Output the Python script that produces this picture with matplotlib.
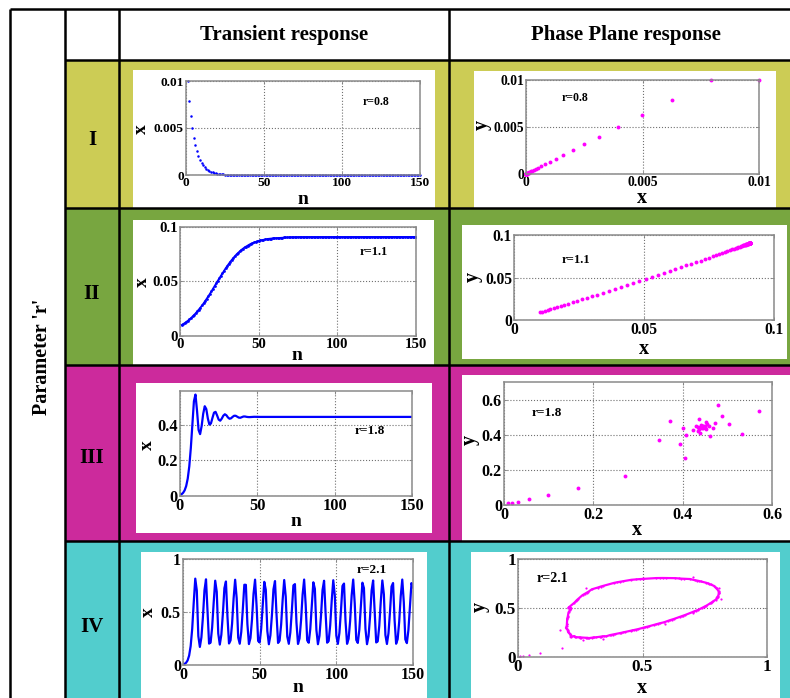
import numpy as np
import matplotlib
matplotlib.use('Agg')
import matplotlib.pyplot as plt
from matplotlib.patches import Rectangle
from matplotlib.lines import Line2D

# ---------------- data ----------------
col_titles = ['Transient response', 'Phase Plane response']
row_names = ['I', 'II', 'III', 'IV']
r_labels = ['r=0.8', 'r=1.1', 'r=1.8', 'r=2.1']
side_title = "Parameter 'r'"
x_prev0 = 0.01  # initial y value (previous x)

x_r08 = [0.01, 0.00792, 0.00627, 0.00498, 0.00396, 0.00315, 0.00251, 0.00200, 0.00160, 0.00128,
         0.00102, 0.00081, 0.00065, 0.00052, 0.00042, 0.00033, 0.00027, 0.00021, 0.00017, 0.00014,
         0.00011, 0.00009, 0.00007, 0.00006, 0.00005, 0.00004, 0.00003, 0.00002, 0.00002, 0.00001,
         0.00001, 0.00001, 0.000005, 0.000004, 0.000003, 0.000002, 0.000002, 0.000001, 0.000001, 0.000001,
         0, 0, 0, 0, 0, 0, 0, 0, 0, 0, 0, 0, 0, 0, 0, 0, 0, 0, 0, 0,
         0, 0, 0, 0, 0, 0, 0, 0, 0, 0, 0, 0, 0, 0, 0, 0, 0, 0, 0, 0,
         0, 0, 0, 0, 0, 0, 0, 0, 0, 0, 0, 0, 0, 0, 0, 0, 0, 0, 0, 0,
         0, 0, 0, 0, 0, 0, 0, 0, 0, 0, 0, 0, 0, 0, 0, 0, 0, 0, 0, 0,
         0, 0, 0, 0, 0, 0, 0, 0, 0, 0, 0, 0, 0, 0, 0, 0, 0, 0, 0, 0,
         0, 0, 0, 0, 0, 0, 0, 0, 0, 0]

x_r11 = [0.0100, 0.0109, 0.0119, 0.0129, 0.0140, 0.0152, 0.0165, 0.0179, 0.0194, 0.0209,
         0.0226, 0.0243, 0.0261, 0.0280, 0.0300, 0.0321, 0.0343, 0.0365, 0.0387, 0.0411,
         0.0434, 0.0458, 0.0482, 0.0506, 0.0530, 0.0553, 0.0576, 0.0599, 0.0621, 0.0642,
         0.0662, 0.0682, 0.0700, 0.0718, 0.0734, 0.0750, 0.0764, 0.0777, 0.0790, 0.0801,
         0.0812, 0.0821, 0.0830, 0.0838, 0.0846, 0.0852, 0.0858, 0.0863, 0.0868, 0.0873,
         0.0877, 0.0880, 0.0883, 0.0886, 0.0888, 0.0891, 0.0893, 0.0894, 0.0896, 0.0897,
         0.0899, 0.0900, 0.0901, 0.0902, 0.0903, 0.0904, 0.0904, 0.0905, 0.0905, 0.0906,
         0.0906, 0.0907, 0.0907, 0.0907, 0.0908, 0.0908, 0.0908, 0.0908, 0.0908, 0.0909,
         0.0909, 0.0909, 0.0909, 0.0909, 0.0909, 0.0909, 0.0909, 0.0909, 0.0909, 0.0909,
         0.0909, 0.0909, 0.0909, 0.0909, 0.0909, 0.0909, 0.0909, 0.0909, 0.0909, 0.0909,
         0.0909, 0.0909, 0.0909, 0.0909, 0.0909, 0.0909, 0.0909, 0.0909, 0.0909, 0.0909,
         0.0909, 0.0909, 0.0909, 0.0909, 0.0909, 0.0909, 0.0909, 0.0909, 0.0909, 0.0909,
         0.0909, 0.0909, 0.0909, 0.0909, 0.0909, 0.0909, 0.0909, 0.0909, 0.0909, 0.0909,
         0.0909, 0.0909, 0.0909, 0.0909, 0.0909, 0.0909, 0.0909, 0.0909, 0.0909, 0.0909,
         0.0909, 0.0909, 0.0909, 0.0909, 0.0909, 0.0909, 0.0909, 0.0909, 0.0909, 0.0909]

x_r18 = [0.0100, 0.0178, 0.0318, 0.0562, 0.0979, 0.1663, 0.2700, 0.4052, 0.5324, 0.5700,
         0.4798, 0.3713, 0.3477, 0.3935, 0.4620, 0.5044, 0.4885, 0.4358, 0.4012, 0.4075,
         0.4392, 0.4684, 0.4728, 0.4524, 0.4293, 0.4231, 0.4347, 0.4513, 0.4593, 0.4536,
         0.4415, 0.4342, 0.4366, 0.4446, 0.4509, 0.4508, 0.4456, 0.4405, 0.4396, 0.4431,
         0.4466, 0.4468, 0.4448, 0.4436, 0.4433, 0.4440, 0.4448, 0.4450, 0.4447, 0.4443,
         0.4444, 0.4444, 0.4444, 0.4444, 0.4444, 0.4444, 0.4444, 0.4444, 0.4444, 0.4444,
         0.4444, 0.4444, 0.4444, 0.4444, 0.4444, 0.4444, 0.4444, 0.4444, 0.4444, 0.4444,
         0.4444, 0.4444, 0.4444, 0.4444, 0.4444, 0.4444, 0.4444, 0.4444, 0.4444, 0.4444,
         0.4444, 0.4444, 0.4444, 0.4444, 0.4444, 0.4444, 0.4444, 0.4444, 0.4444, 0.4444,
         0.4444, 0.4444, 0.4444, 0.4444, 0.4444, 0.4444, 0.4444, 0.4444, 0.4444, 0.4444,
         0.4444, 0.4444, 0.4444, 0.4444, 0.4444, 0.4444, 0.4444, 0.4444, 0.4444, 0.4444,
         0.4444, 0.4444, 0.4444, 0.4444, 0.4444, 0.4444, 0.4444, 0.4444, 0.4444, 0.4444,
         0.4444, 0.4444, 0.4444, 0.4444, 0.4444, 0.4444, 0.4444, 0.4444, 0.4444, 0.4444,
         0.4444, 0.4444, 0.4444, 0.4444, 0.4444, 0.4444, 0.4444, 0.4444, 0.4444, 0.4444,
         0.4444, 0.4444, 0.4444, 0.4444, 0.4444, 0.4444, 0.4444, 0.4444, 0.4444, 0.4444]

x_r21 = [0.0100, 0.0208, 0.0432, 0.0889, 0.1786, 0.3417, 0.5894, 0.8148, 0.7026, 0.2732,
         0.1706, 0.2604, 0.4536, 0.7045, 0.8084, 0.5017, 0.2019, 0.2113, 0.3541, 0.5865,
         0.7955, 0.6908, 0.2966, 0.1926, 0.2845, 0.4824, 0.7248, 0.7878, 0.4553, 0.2029,
         0.2320, 0.3884, 0.6264, 0.8045, 0.6312, 0.2591, 0.2007, 0.3123, 0.5242, 0.7570,
         0.7564, 0.3860, 0.1975, 0.2547, 0.4292, 0.6718, 0.8053, 0.5550, 0.2269, 0.2120,
         0.3442, 0.5696, 0.7845, 0.7091, 0.3209, 0.1960, 0.2795, 0.4719, 0.7140, 0.7918,
         0.4755, 0.2079, 0.2290, 0.3809, 0.6167, 0.8018, 0.6454, 0.2686, 0.2000, 0.3072,
         0.5161, 0.7509, 0.7631, 0.3992, 0.1986, 0.2506, 0.4217, 0.6637, 0.8060, 0.5692,
         0.2319, 0.2098, 0.3384, 0.5615, 0.7801, 0.7184, 0.3317, 0.1962, 0.2754, 0.4649,
         0.7074, 0.7949, 0.4884, 0.2104, 0.2260, 0.3747, 0.6090, 0.7997, 0.6566, 0.2762,
         0.1992, 0.3028, 0.5092, 0.7455, 0.7684, 0.4107, 0.1998, 0.2473, 0.4156, 0.6569,
         0.8062, 0.5809, 0.2364, 0.2081, 0.3337, 0.5549, 0.7764, 0.7257, 0.3408, 0.1963,
         0.2717, 0.4586, 0.7014, 0.7975, 0.5001, 0.2127, 0.2233, 0.3692, 0.6022, 0.7977,
         0.6664, 0.2831, 0.1983, 0.2985, 0.5025, 0.7403, 0.7734, 0.4218, 0.2007, 0.2437,
         0.4091, 0.6497, 0.8062, 0.5931, 0.2414, 0.2063, 0.3287, 0.5479, 0.7724, 0.7333]

series = [x_r08, x_r11, x_r18, x_r21]

# ticks
trans_xticks = [0, 50, 100, 150]
trans_xlabels = ['0', '50', '100', '150']
trans_yticks = [[0, 0.005, 0.01], [0, 0.05, 0.1], [0, 0.2, 0.4], [0, 0.5, 1]]
trans_ylabels = [['0', '0.005', '0.01'], ['0', '0.05', '0.1'], ['0', '0.2', '0.4'], ['0', '0.5', '1']]
trans_ylim = [(0, 0.01), (0, 0.1), (0, 0.59), (0, 1)]
phase_xticks = [[0, 0.005, 0.01], [0, 0.05, 0.1], [0, 0.2, 0.4, 0.6], [0, 0.5, 1]]
phase_xlabels = [['0', '0.005', '0.01'], ['0', '0.05', '0.1'], ['0', '0.2', '0.4', '0.6'], ['0', '0.5', '1']]
phase_yticks = [[0, 0.005, 0.01], [0, 0.05, 0.1], [0, 0.2, 0.4, 0.6], [0, 0.5, 1]]
phase_ylabels = [['0', '0.005', '0.01'], ['0', '0.05', '0.1'], ['0', '0.2', '0.4', '0.6'], ['0', '0.5', '1']]
phase_xlim = [(0, 0.01), (0, 0.1), (0, 0.6), (0, 1)]
phase_ylim = [(0, 0.01), (0, 0.1), (0, 0.7), (0, 1)]

# ---------------- layout (pixels) ----------------
W, H = 790, 698
SERIF = 'Liberation Serif'
fig = plt.figure(figsize=(W / 100, H / 100), dpi=100)
fig.patch.set_facecolor('white')


def fx(x):
    return x / W


def fy(y):
    return 1 - y / H


def rect(x0, y0, x1, y1, color, z=-10):
    fig.add_artist(Rectangle((fx(x0), fy(y1)), (x1 - x0) / W, (y1 - y0) / H,
                             transform=fig.transFigure, facecolor=color,
                             edgecolor='none', zorder=z))


def line(xs, ys, lw=1.8):
    fig.add_artist(Line2D([fx(v) for v in xs], [fy(v) for v in ys],
                          transform=fig.transFigure, color='black', lw=lw,
                          zorder=-5, solid_capstyle='butt'))


row_colors = ['#CCCC55', '#78A640', '#CC2A9C', '#52CDCD']
row_y = [(60, 208), (208, 365), (365, 541), (541, 698)]
for c, (a, b) in zip(row_colors, row_y):
    rect(65, a, 790, b, c)

white_boxes = [
    [(133, 70, 435, 208), (474, 71, 776, 208)],
    [(133, 220, 434, 365), (462, 225, 787, 359)],
    [(136, 383, 432, 533), (462, 375, 790, 541)],
    [(141, 552, 427, 698), (471, 552, 780, 698)],
]
for pair in white_boxes:
    for (a, b, c, d) in pair:
        rect(a, b, c, d, 'white', z=-8)

# table lines
line([10, 790], [9, 9])
for xv in [10, 65, 119, 449]:
    line([xv, xv], [9, 698])
for yv in [60, 208, 365, 541]:
    line([65, 790], [yv, yv])

# headers
fig.text(fx(284), fy(35), col_titles[0], ha='center', va='center',
         fontsize=15, fontweight='bold', family=SERIF)
fig.text(fx(626), fy(35), col_titles[1], ha='center', va='center',
         fontsize=15, fontweight='bold', family=SERIF)
fig.text(fx(42), fy(357), side_title, ha='center', va='center', rotation=90,
         fontsize=14.5, fontweight='bold', family=SERIF)
row_label_y = [140, 294, 458, 627]
for name, yv in zip(row_names, row_label_y):
    fig.text(fx(92), fy(yv), name, ha='center', va='center',
             fontsize=15, fontweight='bold', family=SERIF)

trans_axes = [(186, 81, 420, 175), (180, 227, 416, 336), (180, 391, 412, 496), (183, 559, 413, 665)]
phase_axes = [(526, 80, 759, 174), (514, 235, 774, 320), (504, 382, 772, 505), (518, 559, 767, 657)]
tick_fs = [9.6, 10.7, 11.8, 11.5]
phase_tick_fs = [9.8, 11.2, 11.6, 12.3]

trans_xlabel_pos = [(303, 199), (297, 356), (296, 522), (298, 688)]
trans_ylabel_pos = [(141, 129), (142, 282), (147, 445), (148, 612)]
phase_xlabel_pos = [(642, 198), (644, 349), (637, 530), (642, 688)]
phase_ylabel_pos = [(482, 125), (473, 277), (470, 440), (480, 607)]

trans_r_pos = [(363, 102), (360, 252), (355, 431), (357, 570)]
phase_r_pos = [(562, 98), (562, 260), (532, 413), (537, 578)]
r_fs_t = [8.5, 9.0, 9.6, 9.6]
r_fs_p = [8.5, 9.1, 9.6, 10.0]

BLUE = '#0000FF'
MAG = '#FF00FF'


def make_ax(box):
    x0, y0, x1, y1 = box
    return fig.add_axes([fx(x0), fy(y1), (x1 - x0) / W, (y1 - y0) / H])


def style(ax, xt, xl, yt, yl, fs):
    ax.set_xticks(xt)
    ax.set_xticklabels(xl, fontsize=fs, fontweight='bold', family=SERIF)
    ax.set_yticks(yt)
    ax.set_yticklabels(yl, fontsize=fs, fontweight='bold', family=SERIF)
    ax.grid(True, ls=':', color='#707070', lw=0.8)
    ax.tick_params(direction='in', length=2.5, width=0.6, top=True, right=True,
                   pad=1.5, color='#808080', labelcolor='black')
    for s in ax.spines.values():
        s.set_color('#8a8a8a')
        s.set_linewidth(1.1)
    ax.set_facecolor('white')


n = np.arange(1, 151)
for i in range(4):
    xs = np.array(series[i])
    # transient
    ax = make_ax(trans_axes[i])
    if i == 0:
        ax.plot(n, xs, 'o', color=BLUE, ms=1.8, mew=0, clip_on=False)
    elif i == 1:
        ax.plot(n, xs, '-', color=BLUE, lw=1.3)
        ax.plot(n, xs, 'o', color=BLUE, ms=2.0, mew=0)
    else:
        ax.plot(n, xs, '-', color=BLUE, lw=1.6)
    ax.set_xlim(0, 150)
    ax.set_ylim(*trans_ylim[i])
    style(ax, trans_xticks, trans_xlabels, trans_yticks[i], trans_ylabels[i], tick_fs[i])

    # phase plane: (x_n, x_{n-1})
    py = np.concatenate([[x_prev0], xs[:-1]])
    px = xs
    axp = make_ax(phase_axes[i])
    if i == 3:
        cyc = n >= 17
        cx, cy = px[cyc], py[cyc]
        order = np.argsort(np.arctan2(cy - 0.5, cx - 0.5))
        cx = np.append(cx[order], cx[order][0])
        cy = np.append(cy[order], cy[order][0])
        axp.plot(cx, cy, '-', color=MAG, lw=1.6)
        axp.plot(px, py, 'o', color=MAG, ms=1.6, mew=0, clip_on=False)
    else:
        axp.plot(px, py, 'o', color=MAG, ms=2.8, mew=0, clip_on=False)
    axp.set_xlim(*phase_xlim[i])
    axp.set_ylim(*phase_ylim[i])
    style(axp, phase_xticks[i], phase_xlabels[i], phase_yticks[i], phase_ylabels[i], phase_tick_fs[i])

    # axis labels
    fig.text(fx(trans_xlabel_pos[i][0]), fy(trans_xlabel_pos[i][1]), 'n', ha='center', va='center',
             fontsize=14, fontweight='bold', family=SERIF)
    fig.text(fx(trans_ylabel_pos[i][0]), fy(trans_ylabel_pos[i][1]), 'x', ha='center', va='center',
             rotation=90, fontsize=14, fontweight='bold', family=SERIF)
    fig.text(fx(phase_xlabel_pos[i][0]), fy(phase_xlabel_pos[i][1]), 'x', ha='center', va='center',
             fontsize=14.5, fontweight='bold', family=SERIF)
    fig.text(fx(phase_ylabel_pos[i][0]), fy(phase_ylabel_pos[i][1]), 'y', ha='center', va='center',
             rotation=90, fontsize=14.5, fontweight='bold', family=SERIF)

    # r annotations
    fig.text(fx(trans_r_pos[i][0]), fy(trans_r_pos[i][1]), r_labels[i], ha='left', va='center',
             fontsize=r_fs_t[i], fontweight='bold', family=SERIF)
    fig.text(fx(phase_r_pos[i][0]), fy(phase_r_pos[i][1]), r_labels[i], ha='left', va='center',
             fontsize=r_fs_p[i], fontweight='bold', family=SERIF)

fig.savefig('out.png', dpi=100, facecolor='white')
